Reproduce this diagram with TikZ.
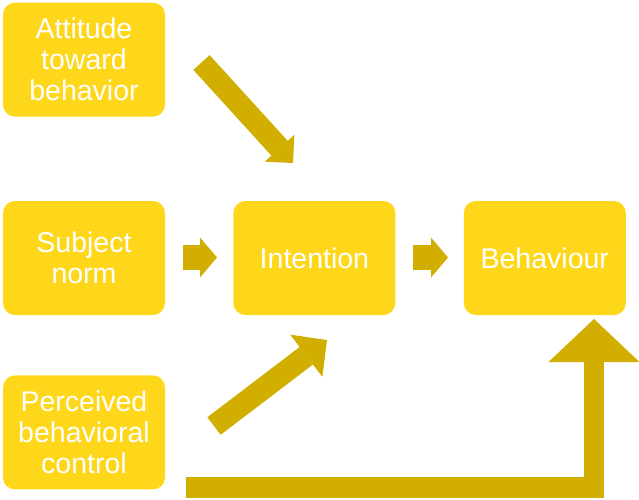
\documentclass[tikz,border=0pt]{standalone}
\usepackage{fontspec}
\setmainfont{Liberation Sans}
\usetikzlibrary{positioning,arrows.meta}
\definecolor{boxyellow}{RGB}{255,215,26}
\definecolor{arrowgold}{RGB}{209,174,0}

\begin{document}
\begin{tikzpicture}[x=1pt, y=-1pt, node distance=68pt, line join=miter,
    factor/.style = {fill=boxyellow, rounded corners=12pt, minimum width=162pt, minimum height=114pt,
      inner sep=0pt, align=center, text=white, font=\fontsize{28.5}{31}\selectfont},
    push/.style = {draw=arrowgold, line width=#1}]
  \useasboundingbox (0,0) rectangle (639,499);
  % the five boxes
  \node[factor] at (84,258) (subj) {Subject\\norm};
  \node[factor] [right=68pt of subj] (intent) {Intention};
  \node[factor] [right=68pt of intent] (behav) {Behaviour};
  \node[factor] [above=84pt of subj] (att) {Attitude\\toward\\behavior};
  \node[factor] [below=60pt of subj] (perc) {Perceived\\behavioral\\control};
  % block arrows
  \coordinate (a1) at (201.5,62.5);
  \coordinate (a2) at (293,163);
  \coordinate (s1) at (183,257.5);
  \coordinate (s2) at (217,257.5);
  \coordinate (i1) at (413,257.5);
  \coordinate (i2) at (448,257.5);
  \coordinate (p1) at (214,426);
  \coordinate (p2) at (327,340);
  \coordinate (c1) at (186,487.5);
  \coordinate (c2) at (594,319);
  \draw[push=22pt, -{Triangle[length=20pt, width=40pt, line width=0pt]}] (a1) -- (a2);
  \draw[push=25pt, -{Triangle[length=17pt, width=40pt, line width=0pt]}] (s1) -- (s2);
  \draw[push=25pt, -{Triangle[length=17pt, width=40pt, line width=0pt]}] (i1) -- (i2);
  \draw[push=22pt, -{Triangle[length=26pt, width=53pt, line width=0pt]}] (p1) -- (p2);
  \draw[push=20.5pt, -{Triangle[length=43pt, width=91pt, line width=0pt]}] (c1) -| (c2);
\end{tikzpicture}
\end{document}
